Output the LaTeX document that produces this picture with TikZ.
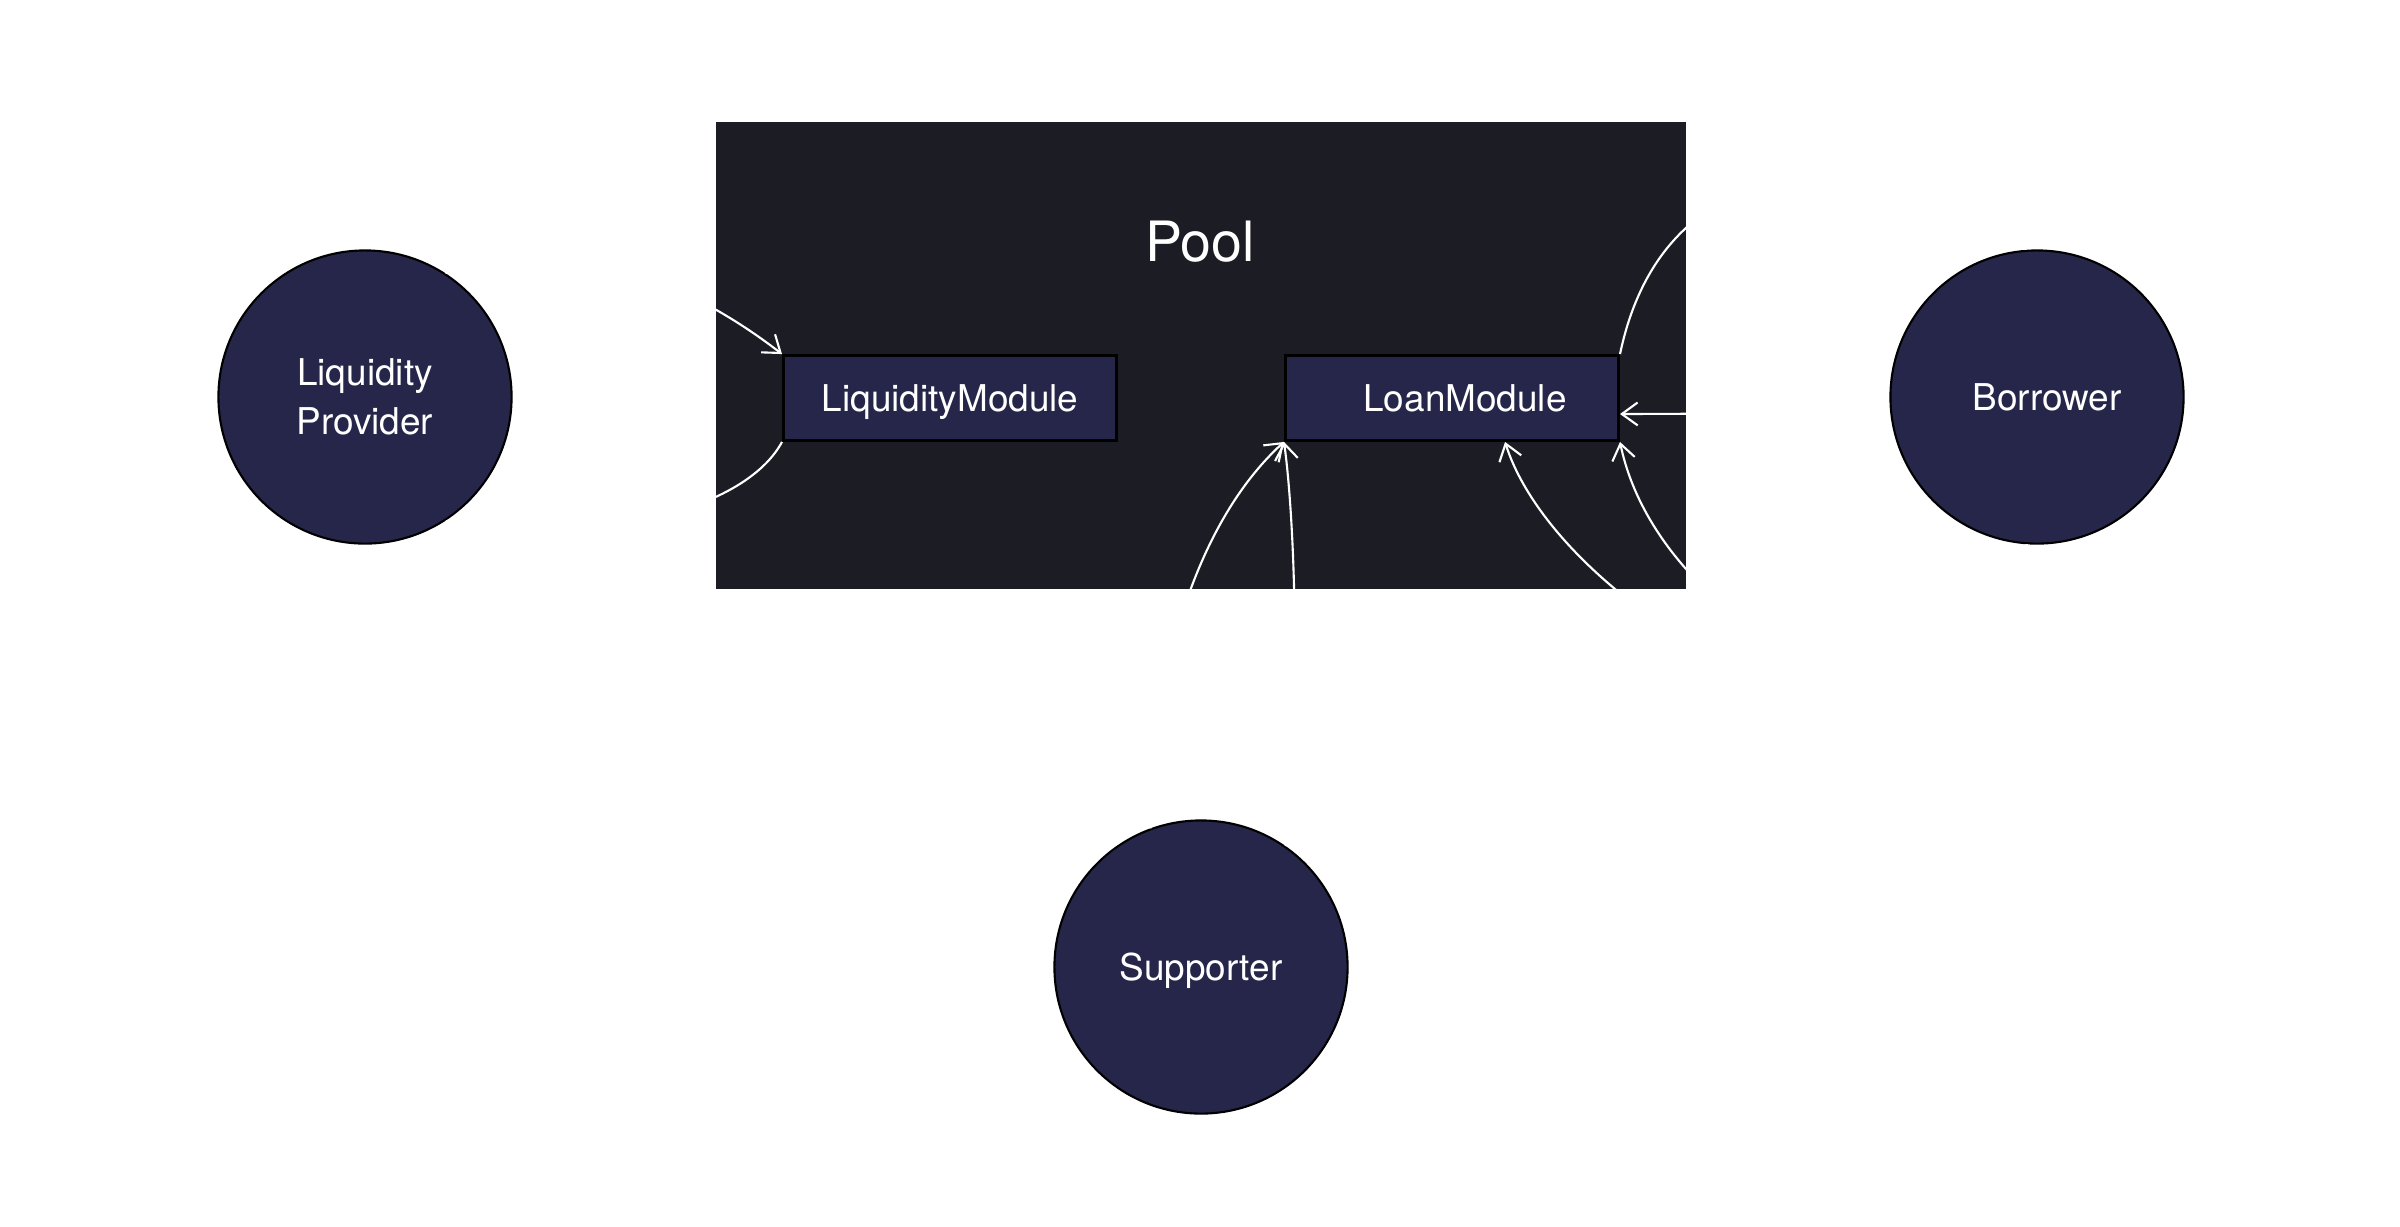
\documentclass[tikz,border=0pt]{standalone}
\usepackage{fontspec}
\setmainfont{TeX Gyre Heros}
\usetikzlibrary{arrows.meta}
\definecolor{poolbg}{HTML}{1C1C24}
\definecolor{nodebg}{HTML}{26264A}
\begin{document}
\begin{tikzpicture}[x=0.01cm,y=-0.01cm,
  actor/.style={circle, draw=black, line width=0.6pt, fill=nodebg, minimum size=2.93cm, inner sep=0pt, text=white, font=\fontsize{10.5pt}{13.9pt}\selectfont, align=center},
  module/.style={rectangle, draw=black, line width=0.8pt, fill=nodebg, minimum width=3.33cm, minimum height=0.85cm, inner sep=0pt, text=white, font=\fontsize{10.5pt}{13.9pt}\selectfont, text height=7.6pt, text depth=0pt},
  poolbox/.style={rectangle, draw=none, fill=poolbg, minimum width=9.70cm, minimum height=4.67cm, inner sep=0pt},
  flow/.style={draw=white, line width=0.6pt, -{Straight Barb[length=4.5pt,width=6.5pt]}}
]
\useasboundingbox[fill=white] (0,0) rectangle (2400,1226);

% Pool container
\node[poolbox] (pool) at (1201,355.5) {};
\node[text=white, font=\fontsize{15.8pt}{19pt}\selectfont, inner sep=0pt] (pooltitle) at (1200,242) {Pool};

% Modules
\node[module] (lm) at (950,398) {LiquidityModule};
\node[module] (loan) at (1452,398) {\hspace*{0.26cm}LoanModule};

% Actors
\node[actor] (lp) at (365,397) {Liquidity\\Provider};
\node[actor] (borrower) at (2037,397) {\hspace*{0.2cm}Borrower};
\node[actor, text height=7.6pt, text depth=0pt] (supporter) at (1201,967) {Supporter};

% Connectors
\draw[flow] (lp.57) .. controls +(115,-46) and +(-93,-72) .. (lm.north west);
\draw[flow] (lm.south west) .. controls +(-43,79) and +(115,25) .. (lp.-57);
\draw[flow] (loan.north east) .. controls +(45,-215) and +(-150,-105) .. (borrower.94);
\draw[flow] ([yshift=-0.16cm]borrower.west) -- ([yshift=-0.16cm]loan.east);
\draw[flow] (borrower.-94) .. controls +(-27,256) and +(42,205) .. (loan.south east);
\draw[flow] (borrower.-94) .. controls +(-25,316) and +(60,190) .. ([xshift=0.53cm]loan.south);
\draw[flow] (supporter.110) .. controls +(0,-150) and +(-89,81) .. (loan.south west);
\draw[flow] (supporter.55) .. controls +(15,-147) and +(11,80) .. (loan.south west);
\end{tikzpicture}
\end{document}
